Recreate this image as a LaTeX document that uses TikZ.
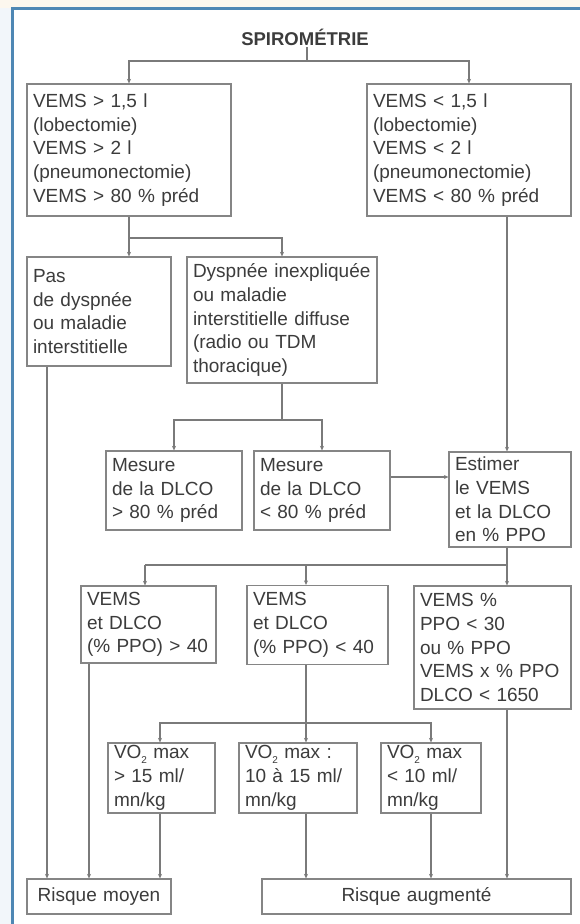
\documentclass[tikz,border=0pt]{standalone}
\usepackage{fontspec}
\setmainfont{Liberation Sans}
\usetikzlibrary{arrows.meta}

\definecolor{ink}{HTML}{3C3C3C}
\definecolor{edge}{HTML}{858585}
\definecolor{wirecol}{HTML}{7A7A7A}
\definecolor{frameblue}{HTML}{4E87B4}
\definecolor{cream}{HTML}{FCF7EE}
\definecolor{paleblue}{HTML}{F2F6FA}

% lowered subscript two for VO2
\newcommand{\lowtwo}{\raisebox{-0.45ex}{\fontsize{10}{10}\selectfont 2}}

\begin{document}
\begin{tikzpicture}[x=1pt,y=-1pt,
  box/.style={draw=edge, line width=1.2pt, fill=white, text=ink, align=left,
    inner xsep=6pt, inner ysep=0pt, font=\fontsize{19}{23.8}\selectfont},
  endbox/.style={box, align=center},
  wire/.style={draw=wirecol, line width=1.1pt},
  arr/.style={wire, -{Stealth[length=4.5pt,width=4pt]}}]

\useasboundingbox (0,0) rectangle (580,924);

% page background and blue frame
\fill[cream] (0,0) rectangle (580,924);
\fill[paleblue] (0,8) rectangle (12,924);
\fill[white] (12,8) rectangle (580,924);
\draw[frameblue, line width=3pt] (12.5,924) -- (12.5,8.5) -- (580,8.5);

% title
\node[font=\bfseries\fontsize{18.5}{22}\selectfont, text=ink, inner sep=2pt] (title) at (305,37) {SPIROMÉTRIE};

% first level
\node[box, text width=192pt, minimum height=132pt] (l1) at (129,150)
  {VEMS > 1,5 l\\(lobectomie)\\VEMS > 2 l\\(pneumonectomie)\\VEMS > 80 \% préd};
\node[box, text width=192pt, minimum height=132pt] (r1) at (469,150)
  {VEMS < 1,5 l\\(lobectomie)\\VEMS < 2 l\\(pneumonectomie)\\VEMS < 80 \% préd};

% second level
\node[box, text width=132pt, minimum height=109pt] (l2) at (99,311.5)
  {Pas\\de dyspnée\\ou maladie\\interstitielle};
\node[box, text width=178pt, minimum height=126pt] (d) at (282,320)
  {Dyspnée inexpliquée\\ou maladie\\interstitielle diffuse\\(radio ou TDM\\thoracique)};

% DLCO measurement
\node[box, text width=124pt, minimum height=79pt] (m1) at (174,490.5)
  {Mesure\\de la DLCO\\> 80 \% préd};
\node[box, text width=124pt, minimum height=79pt] (m2) at (322,490.5)
  {Mesure\\de la DLCO\\< 80 \% préd};
\node[box, text width=110pt, minimum height=95pt] (est) at (510,499.5)
  {Estimer\\le VEMS\\et la DLCO\\en \% PPO};

% predicted post-operative values
\node[box, text width=123pt, minimum height=77pt] (v1) at (148.5,624.5)
  {VEMS\\et DLCO\\(\% PPO) > 40};
\node[box, text width=129pt, minimum height=79pt] (v2) at (317.5,625)
  {VEMS\\et DLCO\\(\% PPO) < 40};
\node[box, text width=145pt, minimum height=123pt] (v3) at (492.5,647.5)
  {VEMS \%\\PPO < 30\\ou \% PPO\\VEMS x \% PPO\\DLCO < 1650};

% VO2 max
\node[box, text width=95pt, minimum height=70pt] (o1) at (161.5,778)
  {VO\lowtwo{} max\\> 15 ml/\\mn/kg};
\node[box, text width=106pt, minimum height=70pt] (o2) at (298,778)
  {VO\lowtwo{} max :\\10 à 15 ml/\\mn/kg};
\node[box, text width=88pt, minimum height=70pt] (o3) at (431,778)
  {VO\lowtwo{} max\\< 10 ml/\\mn/kg};

% outcomes
\node[endbox, text width=132pt, minimum height=35pt] (rm) at (99,896.5) {Risque moyen};
\node[endbox, text width=297pt, minimum height=35pt] (ra) at (416.5,896.5) {Risque augmenté};

% column references for the vertical connectors
\coordinate (xr) at (507,0);
\coordinate (xm) at (306,0);
\coordinate (xa) at (47,0);
\coordinate (xb) at (89,0);
\coordinate (xc) at (160,0);

% spirometry split
\coordinate (s1) at (307,61);
\draw[wire] (title.south -| s1) -- (s1);
\draw[arr] (s1) -| (l1.north);
\draw[arr] (s1) -| (r1.north);

% dyspnoea split
\coordinate (s2) at (129,238);
\draw[wire] (l1.south) -- (s2);
\draw[arr] (s2) -- (s2 |- l2.north);
\draw[arr] (s2) -| (d.north);

% DLCO split
\coordinate (s3) at (282,420);
\draw[wire] (d.south) -- (s3);
\draw[arr] (s3) -| (m1.north);
\draw[arr] (s3) -| (m2.north);
\draw[arr] ([yshift=13.5pt]m2.east) -- ([yshift=13.5pt]m2.east -| est.west);
\draw[arr] (r1.south -| xr) -- (est.north -| xr);

% PPO split
\coordinate (s4) at (507,565);
\coordinate (s4l) at (145,565);
\draw[wire] (est.south -| xr) -- (s4) -- (s4l);
\draw[arr] (s4l) -- (s4l |- v1.north);
\draw[arr] (s4 -| xm) -- (xm |- v2.north);
\draw[arr] (s4) -- (s4 |- v3.north);

% VO2 max split
\coordinate (s5) at (306,723);
\draw[wire] (v2.south -| xm) -- (s5);
\draw[arr] (s5) -| (o1.north -| xc);
\draw[arr] (s5) -- (s5 |- o2.north);
\draw[arr] (s5) -| (o3.north);

% to the outcomes
\draw[arr] (l2.south -| xa) -- (rm.north -| xa);
\draw[arr] (v1.south -| xb) -- (rm.north -| xb);
\draw[arr] (o1.south -| xc) -- (rm.north -| xc);
\draw[arr] (o2.south -| xm) -- (xm |- ra.north);
\draw[arr] (o3.south) -- (o3.south |- ra.north);
\draw[arr] (v3.south -| xr) -- (xr |- ra.north);

\end{tikzpicture}
\end{document}
